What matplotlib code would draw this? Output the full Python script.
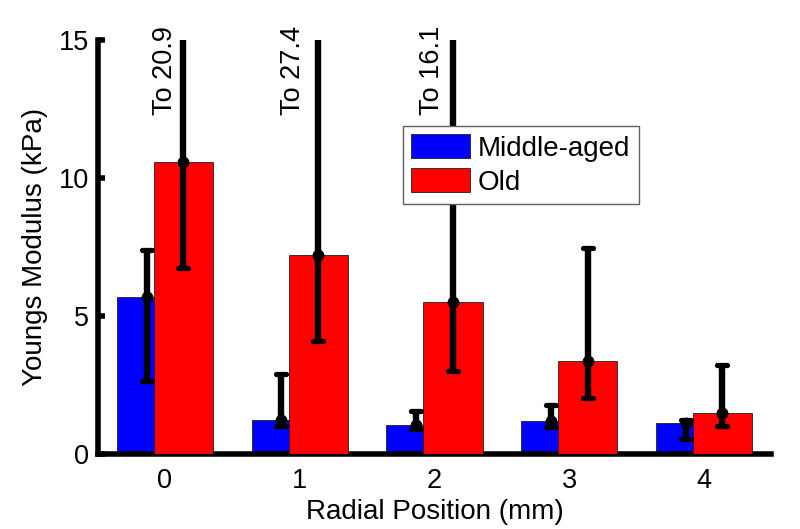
import matplotlib
matplotlib.use("Agg")
import matplotlib.pyplot as plt
from matplotlib.markers import MarkerStyle
import numpy as np

plt.rcParams['font.family'] = ['Liberation Sans', 'DejaVu Sans']

positions = [0, 1, 2, 3, 4]
groups = ["Middle-aged", "Old"]
mid_mean = [5.68, 1.22, 1.05, 1.18, 1.14]
mid_low = [2.64, 1.01, 0.91, 0.97, 0.54]
mid_high = [7.39, 2.89, 1.56, 1.76, 1.23]
old_mean = [10.59, 7.21, 5.50, 3.37, 1.50]
old_low = [6.74, 4.09, 3.01, 2.02, 1.03]
old_high = [20.9, 27.4, 16.1, 7.46, 3.21]
off_scale_labels = ["To 20.9", "To 27.4", "To 16.1"]
label_x_shift = [-0.0, -0.05, -0.02]

fig = plt.figure(figsize=(8, 5.29), dpi=100)
ax = fig.add_axes([97.6/800, 75/529, (771.4-97.6)/800, (454-40)/529])

x = np.array(positions, dtype=float)
off = 0.137
w = 0.44
ax.bar(x - off, mid_mean, w, color=(0, 0, 1), edgecolor='#202020', linewidth=0.6, label=groups[0], zorder=2)
ax.bar(x + off, old_mean, w, color=(1, 0, 0), edgecolor='#202020', linewidth=0.6, label=groups[1], zorder=3)

mm = np.array(mid_mean); ml = np.array(mid_low); mh = np.array(mid_high)
om = np.array(old_mean); ol = np.array(old_low); oh = np.array(old_high)
ekw = dict(fmt='o', color='black', ms=7.5, elinewidth=4.6, capsize=3.8, capthick=3.8, zorder=5)
for xs, m, lo, hi in [(x - off, mm, ml, mh), (x + off, om, ol, oh)]:
    cont = ax.errorbar(xs, m, yerr=[m - lo, hi - m], **ekw)
    for cl in cont[1]:
        cl.set_marker(MarkerStyle('_', capstyle='round'))

for i, t in enumerate(off_scale_labels):
    ax.text(x[i] + label_x_shift[i], 12.3, t, rotation=90, ha='center', va='bottom',
            fontsize=19.5, clip_on=False)

ax.set_xlim(-0.5, 4.5)
ax.set_ylim(0, 15)
ax.set_yticks([0, 5, 10, 15])
ax.set_xticks(positions)
ax.tick_params(axis='y', direction='in', length=5, width=4, labelsize=19.5, pad=6)
ax.tick_params(axis='x', length=0, labelsize=19.5, pad=10)
for s in ['top', 'right']:
    ax.spines[s].set_visible(False)
for s in ['left', 'bottom']:
    ax.spines[s].set_linewidth(4)
    ax.spines[s].set_capstyle('projecting')

ax.set_xlabel("Radial Position (mm)", fontsize=20, labelpad=4)
ax.set_ylabel("Youngs Modulus (kPa)", fontsize=20, labelpad=8)

leg = ax.legend(loc='upper left', bbox_to_anchor=(403/800, 1 - 126/529), bbox_transform=fig.transFigure,
                fontsize=20, fancybox=False, framealpha=1, edgecolor='#606060',
                handlelength=2.1, handleheight=0.95, handletextpad=0.3, labelspacing=0.22,
                borderpad=0.3, borderaxespad=0)
leg.get_frame().set_linewidth(1.0)
leg.set_zorder(10)

fig.savefig("out.png", dpi=100)
